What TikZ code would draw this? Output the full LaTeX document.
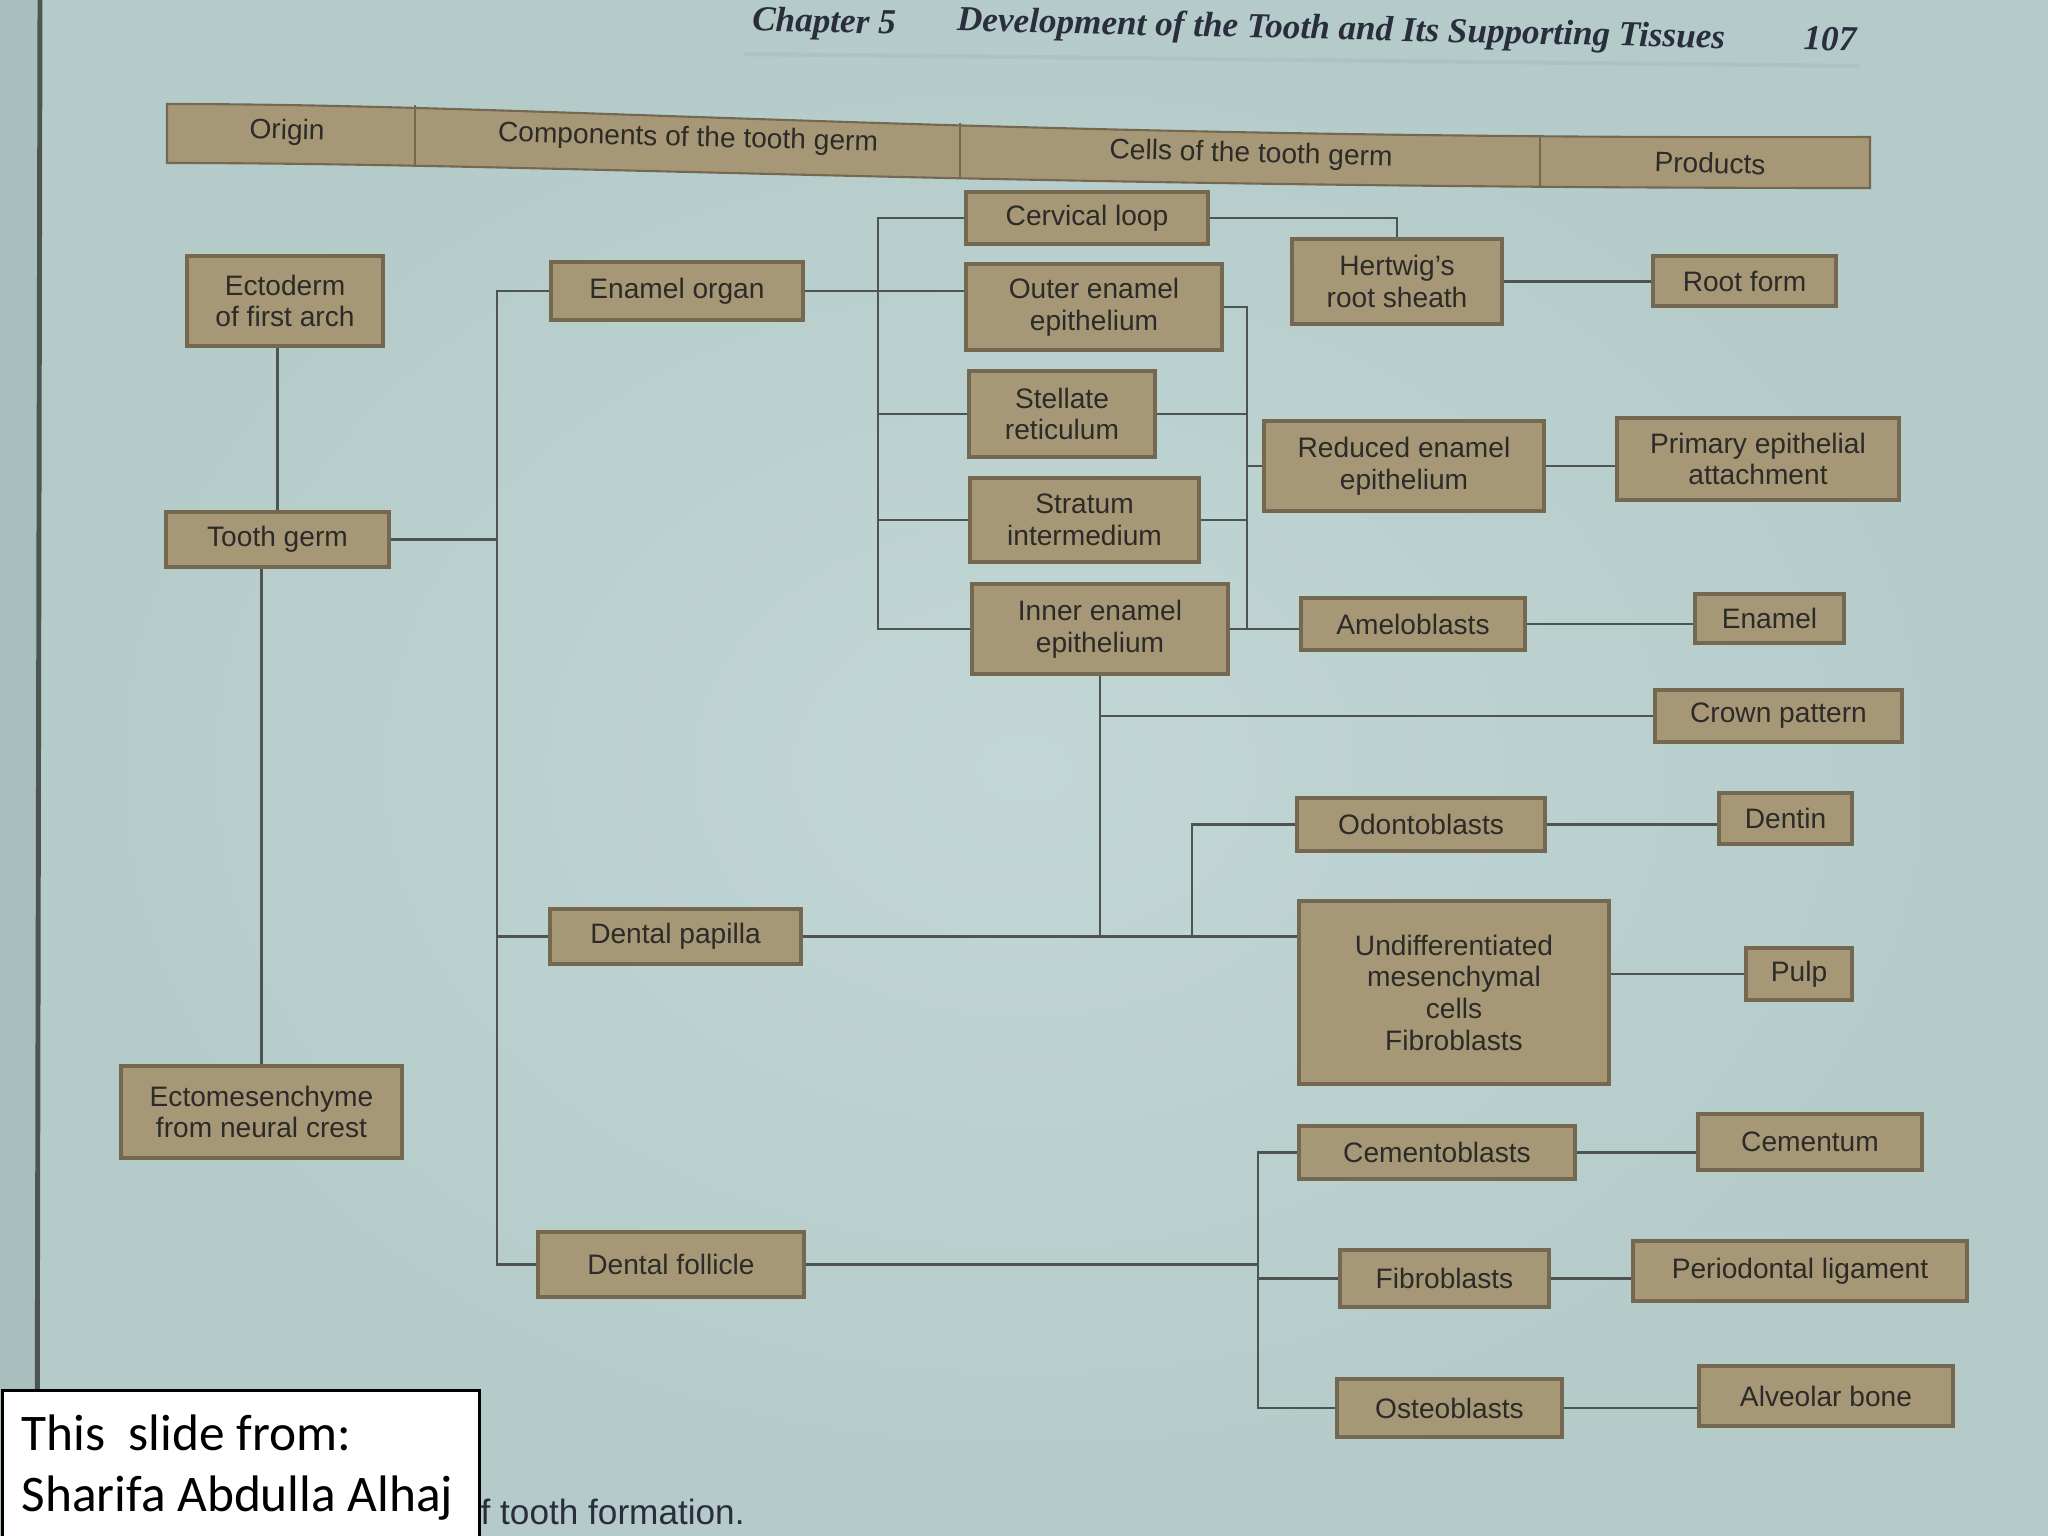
\documentclass[tikz,border=0pt]{standalone}
\usepackage{fontspec}
\setmainfont{Liberation Sans}
\newfontfamily\calfont{Carlito}
\newfontfamily\serfont{Liberation Serif}
\definecolor{bg}{HTML}{B4CBCA}
\definecolor{bglight}{HTML}{C2D7D5}
\definecolor{bgdark}{HTML}{A9BFBE}
\definecolor{boxfill}{HTML}{A69877}
\definecolor{boxedge}{HTML}{746850}
\definecolor{boxtext}{HTML}{2C2B28}
\definecolor{linecol}{HTML}{4E5450}
\definecolor{headtext}{HTML}{2A2E3C}
\begin{document}
\begin{tikzpicture}[x=0.01cm,y=-0.01cm,
  bx/.style={draw=boxedge, fill=boxfill, line width=0.9pt, text=boxtext,
    font=\fontsize{8}{9}\selectfont, align=center, inner sep=0pt},
  wh/.style 2 args={minimum width=#1*0.01cm, minimum height=#2*0.01cm},
  ln/.style={draw=linecol, line width=0.8pt},
  hdr/.style={text=boxtext, font=\fontsize{8}{9}\selectfont, rotate=-1.5},
  chap/.style={text=headtext, font=\serfont\bfseries\itshape\fontsize{10}{12}\selectfont, rotate=-1.3}]
\useasboundingbox (0,0) rectangle (2048,1536);
% background
\shade[inner color=bglight, outer color=bg] (0,0) rectangle (2048,1536);
\fill[bgdark] (0,0) rectangle (40,1536);
\draw[line width=1.4pt, color=linecol] (40,0) -- (37,1536);

% chapter heading
\node[chap] (chap) at (824,24) {Chapter 5};
\node[chap] (dev) at (1341,31) {Development of the Tooth and Its Supporting Tissues};
\node[chap] (pg) at (1830,39) {107};
\draw[line width=1.2pt, color=bgdark, opacity=0.6] (744,54) -- (1860,66);

% header band
\fill[boxfill, draw=boxedge, line width=0.6pt] (167,104) .. controls (550,104) and (1000,140) .. (1870,137)
  -- (1870,188) .. controls (1000,188) and (550,163) .. (167,163) -- cycle;
\draw[boxedge, line width=0.5pt] (415,105) -- (415,165);
\draw[boxedge, line width=0.5pt] (960,123) -- (960,177);
\draw[boxedge, line width=0.5pt] (1540,135) -- (1540,187);
\node[hdr] (h1) at (287,132) {Origin};
\node[hdr] (h2) at (688,139) {Components of the tooth germ};
\node[hdr] (h3) at (1251,155) {Cells of the tooth germ};
\node[hdr] (h4) at (1710,163) {Products};

% origin column
\node[bx, wh={196}{90}] (ecto) at (285,301) {Ectoderm\\of first arch};
\node[bx, wh={223}{55}] (tg) at (277.5,539.5) {Tooth germ};
\node[bx, wh={281}{92}] (ectom) at (261.5,1112) {Ectomesenchyme\\from neural crest};

% components
\node[bx, wh={252}{58}] (eo) at (677,291) {Enamel organ};
\node[bx, wh={251}{55}] (dp) at (675.5,936.5) {Dental papilla};
\node[bx, wh={266}{65}] (df) at (671,1264.5) {Dental follicle};

% cells
\node[bx, wh={242}{52}] (cl) at (1087,218) {Cervical loop};
\node[bx, wh={256}{86}] (oee) at (1094,307) {Outer enamel\\epithelium};
\node[bx, wh={186}{86}] (sr) at (1062,414) {Stellate\\reticulum};
\node[bx, wh={229}{84}] (si) at (1084.5,520) {Stratum\\intermedium};
\node[bx, wh={256}{90}] (iee) at (1100,629) {Inner enamel\\epithelium};
\node[bx, wh={210}{85}] (hrs) at (1397,281.5) {Hertwig's\\root sheath};
\node[bx, wh={280}{90}] (ree) at (1404,466) {Reduced enamel\\epithelium};
\node[bx, wh={224}{52}] (am) at (1413,624) {Ameloblasts};
\node[bx, wh={248}{53}] (od) at (1421,824.5) {Odontoblasts};
\node[bx, wh={310}{183}] (ud) at (1454,992.5) {Undifferentiated\\mesenchymal\\cells\\Fibroblasts};
\node[bx, wh={276}{53}] (cb) at (1437,1152.5) {Cementoblasts};
\node[bx, wh={209}{57}] (fb) at (1444.5,1278.5) {Fibroblasts};
\node[bx, wh={225}{58}] (ob) at (1449.5,1408) {Osteoblasts};

% products
\node[bx, wh={183}{50}] (rf) at (1744.5,281) {Root form};
\node[bx, wh={282}{82}] (pea) at (1758,459) {Primary epithelial\\attachment};
\node[bx, wh={149}{49}] (en) at (1769.5,618.5) {Enamel};
\node[bx, wh={247}{52}] (cp) at (1778.5,716) {Crown pattern};
\node[bx, wh={133}{51}] (de) at (1785.5,818.5) {Dentin};
\node[bx, wh={106}{52}] (pu) at (1799,974) {Pulp};
\node[bx, wh={224}{56}] (ce) at (1810,1142) {Cementum};
\node[bx, wh={334}{60}] (pdl) at (1800,1271) {Periodontal ligament};
\node[bx, wh={254}{60}] (ab) at (1826,1396) {Alveolar bone};

% trunk coordinates
\coordinate (t1) at (497,0);
\coordinate (t2) at (878,0);
\coordinate (t3) at (1247,0);
\coordinate (t4) at (1192,0);
\coordinate (t5) at (1258,0);

% origin connectors
\draw[ln] (tg.north |- ecto.south) -- (tg.north);
\draw[ln] (ectom.north |- tg.south) -- (ectom.north);
\draw[ln] (tg.east) -- (tg.east -| t1);
\draw[ln] (eo.west) -- (eo.west -| t1) -- (df.west -| t1) -- (df.west);
\draw[ln] (dp.west) -- (dp.west -| t1);

% enamel organ cells
\draw[ln] (cl.west) -- (cl.west -| t2) -- (iee.west -| t2) -- (iee.west);
\draw[ln] (sr.west) -- (sr.west -| t2);
\draw[ln] (si.west) -- (si.west -| t2);
\draw[ln] (eo.east) -- (eo.east -| oee.west);

\draw[ln] (cl.east) -- (cl.east -| hrs.north) -- (hrs.north);
\draw[ln] (hrs.east) -- (hrs.east -| rf.west);

\draw[ln] (oee.east) -- (oee.east -| t3) -- (iee.east -| t3);
\draw[ln] (sr.east) -- (sr.east -| t3);
\draw[ln] (si.east) -- (si.east -| t3);
\draw[ln] (ree.west -| t3) -- (ree.west);
\draw[ln] (iee.east) -- (iee.east -| am.west);
\draw[ln] (ree.east) -- (ree.east -| pea.west);
\draw[ln] (am.east) -- (am.east -| en.west);

% inner enamel to crown pattern and papilla
\draw[ln] (iee.south) -- (iee.south |- dp.east);
\draw[ln] (iee.south |- cp.west) -- (cp.west);

% dental papilla
\draw[ln] (dp.east) -- (dp.east -| ud.west);
\draw[ln] (t4 |- dp.east) -- (t4 |- od.west) -- (od.west);
\draw[ln] (od.east) -- (od.east -| de.west);
\draw[ln] (pu.west -| ud.east) -- (pu.west);

% dental follicle
\draw[ln] (df.east) -- (df.east -| t5);
\draw[ln] (cb.west) -- (cb.west -| t5) -- (ob.west -| t5) -- (ob.west);
\draw[ln] (fb.west) -- (fb.west -| t5);
\draw[ln] (cb.east) -- (cb.east -| ce.west);
\draw[ln] (fb.east) -- (fb.east -| pdl.west);
\draw[ln] (ob.east) -- (ob.east -| ab.west);

% caption (partly hidden)
\node[anchor=base east, text=headtext, font=\fontsize{10}{12}\selectfont] (cap) at (757,1524) {of tooth formation.};

% watermark box
\node[draw=black, fill=white, line width=0.8pt, anchor=north west, inner sep=0pt,
  minimum width=477*0.01cm, minimum height=150*0.01cm] (wm) at (1,1389) {};
\node[anchor=base west, inner sep=0pt, font=\calfont\fontsize{14.6}{17}\selectfont, align=left] (wmt) at (21,1450) {This\ \ slide from:};
\node[anchor=base west, inner sep=0pt, font=\calfont\fontsize{14.6}{17}\selectfont, align=left] (wmt2) at (21,1511) {Sharifa Abdulla Alhaj};
\end{tikzpicture}
\end{document}
